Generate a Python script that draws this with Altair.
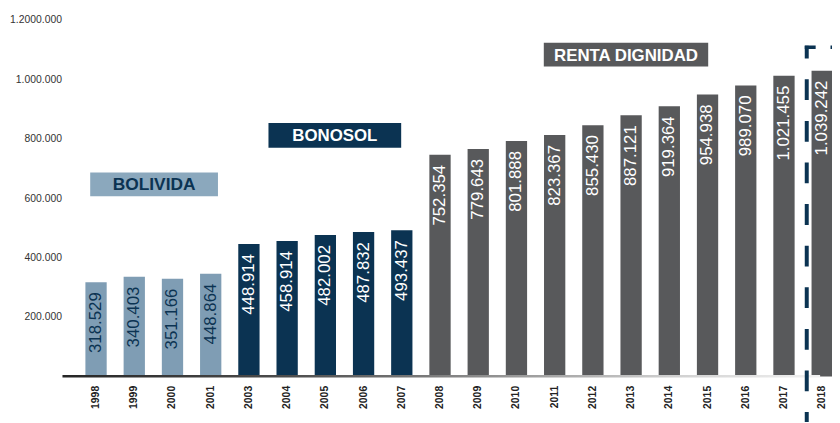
import altair as alt
import pandas as pd

# ---- data ----
years = ["1998", "1999", "2000", "2001", "2003", "2004", "2005", "2006", "2007",
         "2008", "2009", "2010", "2011", "2012", "2013", "2014", "2015", "2016",
         "2017", "2018"]
bar_values = [316700, 335700, 329000, 345700, 445700, 455700, 475700, 485700, 492300,
              745700, 765700, 792300, 812300, 845700, 879000, 909000, 949000, 979000,
              1012000, 1029000]
bar_labels = ["318.529", "340.403", "351.166", "448.864", "448.914", "458.914", "482.002",
              "487.832", "493.437", "752.354", "779.643", "801.888", "823.367", "855.430",
              "887.121", "919.364", "954.938", "989.070", "1.021.455", "1.039.242"]
programs = ["BOLIVIDA"] * 4 + ["BONOSOL"] * 5 + ["RENTA DIGNIDAD"] * 11
program_names = ["BOLIVIDA", "BONOSOL", "RENTA DIGNIDAD"]
y_tick_values = [200000, 400000, 600000, 800000, 1000000, 1200000]
y_tick_labels = ["200.000", "400.000", "600.000", "800.000", "1.000.000", "1.2000.000"]

# ---- styling ----
LIGHT = "#7f9db4"
NAVY = "#0b3352"
GRAY = "#58595b"
BOX_LIGHT = "#8ba8bd"
FONT = "Liberation Sans, Arial, sans-serif"
W, H = 777, 360

df = pd.DataFrame({"year": years, "value": bar_values, "label": bar_labels, "program": programs})

label_expr = " : ".join(
    f"datum.value == {v} ? '{t}'" for v, t in zip(y_tick_values, y_tick_labels)
) + " : ''"

x_enc = alt.X(
    "year:N", sort=years, title=None,
    scale=alt.Scale(range=[0, 801], paddingInner=0.443, paddingOuter=0.6),
    axis=alt.Axis(labelAngle=270, labelAlign="right", labelBaseline="middle",
                  labelFont=FONT, labelFontWeight="bold", labelFontSize=10.5,
                  labelColor="#222222", labelPadding=9, ticks=False, domain=False, grid=False),
)
y_enc = alt.Y(
    "value:Q", title=None,
    scale=alt.Scale(domain=[0, 1200000], nice=False),
    axis=alt.Axis(values=y_tick_values, labelExpr=label_expr, labelFont=FONT,
                  labelFontSize=10.5, labelColor="#333333", labelPadding=1, ticks=False,
                  domain=False, grid=False),
)

base = alt.Chart(df)

bars = base.mark_bar(size=21.5).encode(
    x=x_enc, y=y_enc,
    color=alt.Color("program:N", legend=None,
                    scale=alt.Scale(domain=program_names, range=[LIGHT, NAVY, GRAY])),
)

labels = base.mark_text(angle=270, align="right", baseline="middle", dx=-10,
                        font=FONT, fontSize=17).encode(
    x=alt.X("year:N", sort=years), y="value:Q", text="label:N",
    color=alt.condition(alt.datum.program == "BOLIVIDA", alt.value(NAVY), alt.value("white")),
)

one = alt.Data(values=[{}])

baseline = alt.Chart(one).mark_rect(
    color=alt.Gradient(gradient="linear", x1=0, x2=1, y1=0, y2=0,
                       stops=[alt.GradientStop(color="#262626", offset=0),
                              alt.GradientStop(color="#4d4d4d", offset=0.3),
                              alt.GradientStop(color="#8c8c8c", offset=0.55),
                              alt.GradientStop(color="#cfcfcf", offset=0.8),
                              alt.GradientStop(color="#f2f2f2", offset=1)])
).encode(x=alt.value(0), x2=alt.value(765), y=alt.value(358.5), y2=alt.value(361))


def box(x0, x1, y0, y1, fill, text, tcolor, size):
    r = alt.Chart(one).mark_rect(color=fill).encode(
        x=alt.value(x0), x2=alt.value(x1), y=alt.value(y0), y2=alt.value(y1))
    t = alt.Chart(one).mark_text(font=FONT, fontWeight="bold", fontSize=size,
                                 color=tcolor, align="center", baseline="middle", dy=1).encode(
        x=alt.value((x0 + x1) / 2), y=alt.value((y0 + y1) / 2), text=alt.value(text))
    return r + t


b1 = box(28, 157, 154, 178, BOX_LIGHT, program_names[0], NAVY, 17.5)
b2 = box(208, 342, 104, 129, NAVY, program_names[1], "white", 17)
b3 = box(486, 652, 23, 47, GRAY, program_names[2], "white", 17)

vdash = alt.Chart(one).mark_rule(color=NAVY, strokeWidth=4, strokeDash=[21, 21],
                                  strokeDashOffset=8).encode(
    x=alt.value(751.5), y=alt.value(26), y2=alt.value(412))
hdash = alt.Chart(one).mark_rule(color=NAVY, strokeWidth=3.5, strokeDash=[11, 15]).encode(
    x=alt.value(749.5), x2=alt.value(800), y=alt.value(27.7))

chart = alt.layer(bars, labels, baseline, b1, b2, b3, vdash, hdash).properties(
    width=W, height=H,
    padding={"left": 55, "top": 10, "right": 0, "bottom": 44},
    autosize=alt.AutoSizeParams(type="none"),
    background="white",
).configure_view(stroke=None)

chart.save("out.html", embed_options={"renderer": "svg", "actions": False})
